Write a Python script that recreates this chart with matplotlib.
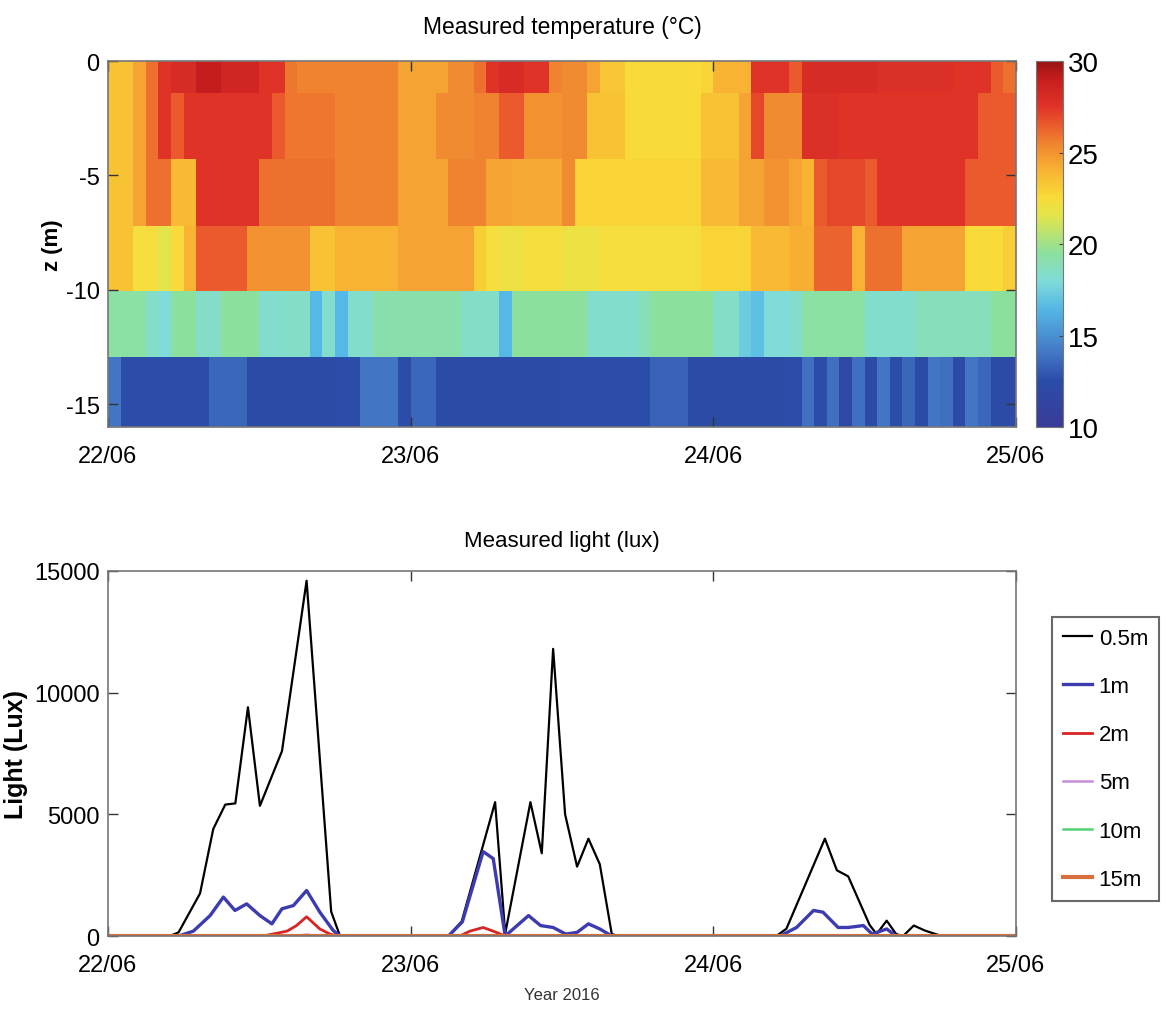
import numpy as np
import matplotlib
matplotlib.use("Agg")
import matplotlib.pyplot as plt
from matplotlib.colors import LinearSegmentedColormap

plt.rcParams['font.family'] = ['Liberation Sans', 'DejaVu Sans']
plt.rcParams['axes.unicode_minus'] = False

# --- temperature grid: hourly columns from 22/06 00:00, depth layers (m) ---
hour_edges = np.arange(0, 73)
depth_edges = [0, -1.4, -4.3, -7.2, -10.05, -12.95, -16]

temp_row0 = [23.5, 23.5, 24.5, 26, 27.5, 28, 28, 29, 29, 28.5, 28.5, 28.5, 27.5, 27.5, 25.8, 25.5, 25.5, 25.5,
             25.5, 25.5, 25.5, 25.5, 25.5, 24.5, 24.5, 24.5, 24.5, 25.3, 25.3, 26, 27.5, 28, 28, 27.5, 27.5, 25.5,
             25.3, 25.3, 24.5, 23.3, 23.3, 22.5, 22.5, 22.5, 22.5, 22.5, 22.5, 22.8, 24, 24, 24, 27.5, 27.5, 27.5,
             26.5, 28, 28, 28, 28, 28, 28, 27.8, 27.8, 27.8, 27.8, 27.8, 27.8, 27.5, 27.5, 27.5, 26.5, 26]
temp_row1 = [23.5, 23.5, 24.5, 26, 27.5, 26.5, 27.5, 27.5, 27.5, 27.5, 27.5, 27.5, 27.5, 26.5, 25.8, 25.8, 25.8, 25.8,
             25.5, 25.5, 25.5, 25.5, 25.5, 24.5, 24.5, 24.5, 25.3, 25.3, 25.3, 25.5, 25.5, 26.5, 26.5, 25, 25, 25,
             25.3, 25.3, 23.5, 23.5, 23.5, 22.5, 22.5, 22.5, 22.5, 22.5, 22.5, 23.5, 23.5, 23.5, 24.5, 27, 25.3, 25.3,
             25.3, 27.8, 27.8, 27.8, 27.5, 27.5, 27.5, 27.5, 27.5, 27.5, 27.5, 27.5, 27.5, 27.5, 27.5, 26.5, 26.5, 26.5]
temp_row2 = [23.5, 23.5, 24.5, 26, 26, 23.8, 23.8, 27.5, 27.5, 27.5, 27.5, 27.5, 26, 26, 26, 26, 26, 26,
             25.5, 25.5, 25.5, 25.5, 25.5, 24.5, 24.5, 24.5, 24.5, 25.5, 25.5, 25.5, 24.5, 24.5, 24.3, 24.3, 24.3, 24.3,
             25.3, 22.8, 22.8, 22.8, 22.8, 22.8, 22.8, 22.8, 22.8, 22.8, 22.8, 23.8, 23.8, 23.8, 24.5, 24.5, 25, 25,
             24.5, 24, 26.5, 27, 27, 27, 26.5, 27.5, 27.5, 27.5, 27.5, 27.5, 27.5, 27.5, 26.5, 26.5, 26.5, 26.5]
temp_row3 = [23.5, 23.5, 22.3, 22.3, 21.5, 22.5, 24, 26.5, 26.5, 26.5, 26.5, 25, 25, 25, 25, 25, 23.5, 23.5,
             24, 24, 24, 24, 24, 24.5, 24.5, 24.5, 24.5, 24.5, 24.5, 23, 22.3, 22, 22, 22.3, 22.3, 22.3,
             22, 22, 22, 22.3, 22.3, 22.3, 22.3, 22.3, 22.3, 22.3, 22.3, 22.8, 22.8, 22.8, 22.8, 23.8, 23.8, 23.8,
             24.2, 24.2, 26.3, 26.3, 26.3, 24, 26, 26, 26, 24.5, 24.5, 24.5, 24.5, 24.5, 22.5, 22.5, 22.5, 23]
temp_row4 = [19.3, 19.3, 19.3, 18.5, 18, 19.5, 19.5, 18.5, 18.5, 19.5, 19.5, 19.5, 18.3, 18.3, 18.5, 18.5, 16.5, 18.3,
             16.5, 18.3, 18.3, 19.2, 19.2, 19.2, 19.2, 19.2, 19.2, 19.2, 18.5, 18.5, 18.5, 16.5, 19.5, 19.5, 19.5, 19.5,
             19.5, 19.5, 18.3, 18.3, 18.3, 18.3, 18.8, 19.5, 19.5, 19.5, 19.5, 19.5, 18.5, 18.5, 17.3, 16.8, 18, 18,
             18.3, 19.3, 19.3, 19.3, 19.3, 19.3, 18.3, 18.3, 18.3, 18.3, 18.8, 18.8, 18.8, 18.8, 18.8, 18.8, 19.5, 19.5]
temp_row5 = [14, 12.5, 12.5, 12.5, 12.5, 12.5, 12.5, 12.5, 13.5, 13.5, 13.5, 12.3, 12.3, 12.3, 12.3, 12.3, 12.3, 12.3,
             12.5, 12.5, 14, 14, 14, 12.5, 13.5, 13.5, 12.3, 12.3, 12.3, 12.3, 12.3, 12.3, 12.3, 12.3, 12.3, 12.3,
             12.5, 12.5, 12.5, 12.5, 12.5, 12.5, 12.5, 13.3, 13.3, 13.3, 12.3, 12.3, 12.3, 12.3, 12.3, 12.3, 12.3, 12.3,
             12.5, 13.8, 12.5, 13.8, 12.0, 13.8, 12.3, 14, 12.5, 13.5, 12.3, 14, 13.8, 12.3, 14, 13.5, 12.3, 12.3]

# --- light series: time (h since 22/06 00:00), lux ---
t_05 = [0, 4.9, 5.6, 7.3, 8.35, 9.3, 10.1, 11.1, 12.05, 13.8, 15.75, 17.7, 18.4,
        27.0, 28.05, 30.7, 31.5, 33.5, 34.4, 35.3, 36.25, 37.2, 38.1, 39.0, 39.95, 40.5,
        53.0, 53.8, 56.85, 57.8, 58.7, 60.4, 60.95, 61.75, 62.5, 63.05, 63.9, 64.8, 66.1, 72]
lux_05 = [0, 0, 150, 1750, 4400, 5400, 5450, 9400, 5350, 7600, 14600, 1000, 0,
          0, 600, 5500, 100, 5500, 3400, 11800, 5000, 2850, 4000, 2950, 80, 0,
          0, 300, 4000, 2700, 2450, 450, 80, 630, 80, 0, 430, 220, 0, 0]
t_1 = [0, 5.6, 6.77, 8.1, 9.15, 10.07, 11.0, 12.05, 13.0, 13.8, 14.7, 15.75, 16.8, 17.87, 18.4,
       27.0, 28.1, 29.75, 30.55, 31.5, 33.35, 34.3, 35.3, 36.3, 37.2, 38.1, 39.0, 39.95,
       53.3, 54.6, 55.95, 56.7, 57.9, 58.7, 59.9, 60.6, 61.75, 62.5, 72]
lux_1 = [0, 0, 200, 840, 1600, 1050, 1320, 840, 500, 1120, 1250, 1870, 980, 220, 0,
         0, 580, 3470, 3180, 0, 840, 430, 350, 80, 150, 500, 290, 0,
         0, 350, 1050, 980, 350, 350, 430, 80, 290, 0, 0]
t_2 = [0, 12.3, 14.2, 14.95, 15.75, 16.8, 17.6, 18.2, 27.9, 28.7, 29.75, 30.55, 31.5, 72]
lux_2 = [0, 0, 200, 430, 790, 290, 80, 0, 0, 200, 350, 200, 0, 0]
t_5 = [0, 15.0, 15.75, 16.5, 29.3, 29.75, 30.2, 72]
lux_5 = [0, 0, 60, 0, 0, 40, 0, 0]
t_10 = [0, 72]
lux_10 = [0, 0]
t_15 = [0, 72]
lux_15 = [0, 0]

day_ticks = [0, 24, 48, 72]
day_labels = ['22/06', '23/06', '24/06', '25/06']

# washed-out jet like the original colour bar
cmap = LinearSegmentedColormap.from_list('soft_jet', [
    (0.000, '#393c98'), (0.125, '#2b4ca8'), (0.200, '#4276c4'), (0.325, '#55b8e6'),
    (0.400, '#80dcd8'), (0.475, '#8ce09e'), (0.575, '#e0e44c'), (0.625, '#f8dc38'),
    (0.700, '#f8b434'), (0.775, '#f08430'), (0.825, '#ea5c2c'), (0.875, '#e03429'),
    (0.950, '#c81e1e'), (1.000, '#981414')])

fig = plt.figure(figsize=(11.66, 10.12), dpi=100)
ax1 = fig.add_axes([0.0926, 0.577, 0.7787, 0.3617])
cax = fig.add_axes([0.8885, 0.577, 0.0232, 0.3617])
ax2 = fig.add_axes([0.0926, 0.0741, 0.7787, 0.3607])

temp = np.array([temp_row0, temp_row1, temp_row2, temp_row3, temp_row4, temp_row5])
mesh = ax1.pcolormesh(hour_edges, depth_edges, temp, cmap=cmap, vmin=10, vmax=30, shading='flat')
ax1.set_xlim(0, 72)
ax1.set_ylim(-16, 0)
ax1.set_yticks([0, -5, -10, -15])
ax1.set_xticks(day_ticks)
ax1.set_xticklabels(day_labels)
ax1.set_title('Measured temperature (°C)', fontsize=16.5, pad=20)
ax1.set_ylabel('z (m)', fontsize=16, fontweight='bold', labelpad=2)

cb = fig.colorbar(mesh, cax=cax, ticks=[10, 15, 20, 25, 30])
cb.outline.set_edgecolor('#777777')
cax.tick_params(direction='in', length=3, labelsize=20, color='#444444')

# light plot
ax2.plot(t_05, lux_05, color='black', lw=1.6, label='0.5m')
ax2.plot(t_1, lux_1, color='#3c3cb0', lw=2.4, label='1m')
ax2.plot(t_2, lux_2, color='#d82424', lw=2.0, label='2m')
ax2.plot(t_5, lux_5, color='#c48ed8', lw=1.8, label='5m')
ax2.plot(t_10, lux_10, color='#52d274', lw=1.8, label='10m')
ax2.plot(t_15, lux_15, color='#d8703e', lw=3.0, label='15m')
ax2.set_xlim(0, 72)
ax2.set_ylim(0, 15000)
ax2.set_yticks([0, 5000, 10000, 15000])
ax2.set_xticks(day_ticks)
ax2.set_xticklabels(day_labels)
ax2.set_title('Measured light (lux)', fontsize=16, pad=18)
ax2.set_ylabel('Light (Lux)', fontsize=18, fontweight='bold', labelpad=4)
ax2.set_xlabel('Year 2016', fontsize=12, labelpad=8, color='#333333')

for ax in (ax1, ax2):
    ax.tick_params(direction='in', top=True, right=True, length=7, width=1,
                   labelsize=17, color='#333333', pad=6)
    ax.tick_params(axis='x', pad=13)
    for s in ax.spines.values():
        s.set_edgecolor('#777777')
        s.set_linewidth(1.2)

leg = ax2.legend(loc='upper left', bbox_to_anchor=(0.9022, 0.3893), bbox_transform=fig.transFigure,
                 fancybox=False, edgecolor='#444444', fontsize=16, handlelength=1.3,
                 labelspacing=1.22, borderpad=0.5, handletextpad=0.3, borderaxespad=0)
leg.get_frame().set_linewidth(1.5)

fig.savefig('out.png', dpi=100)
